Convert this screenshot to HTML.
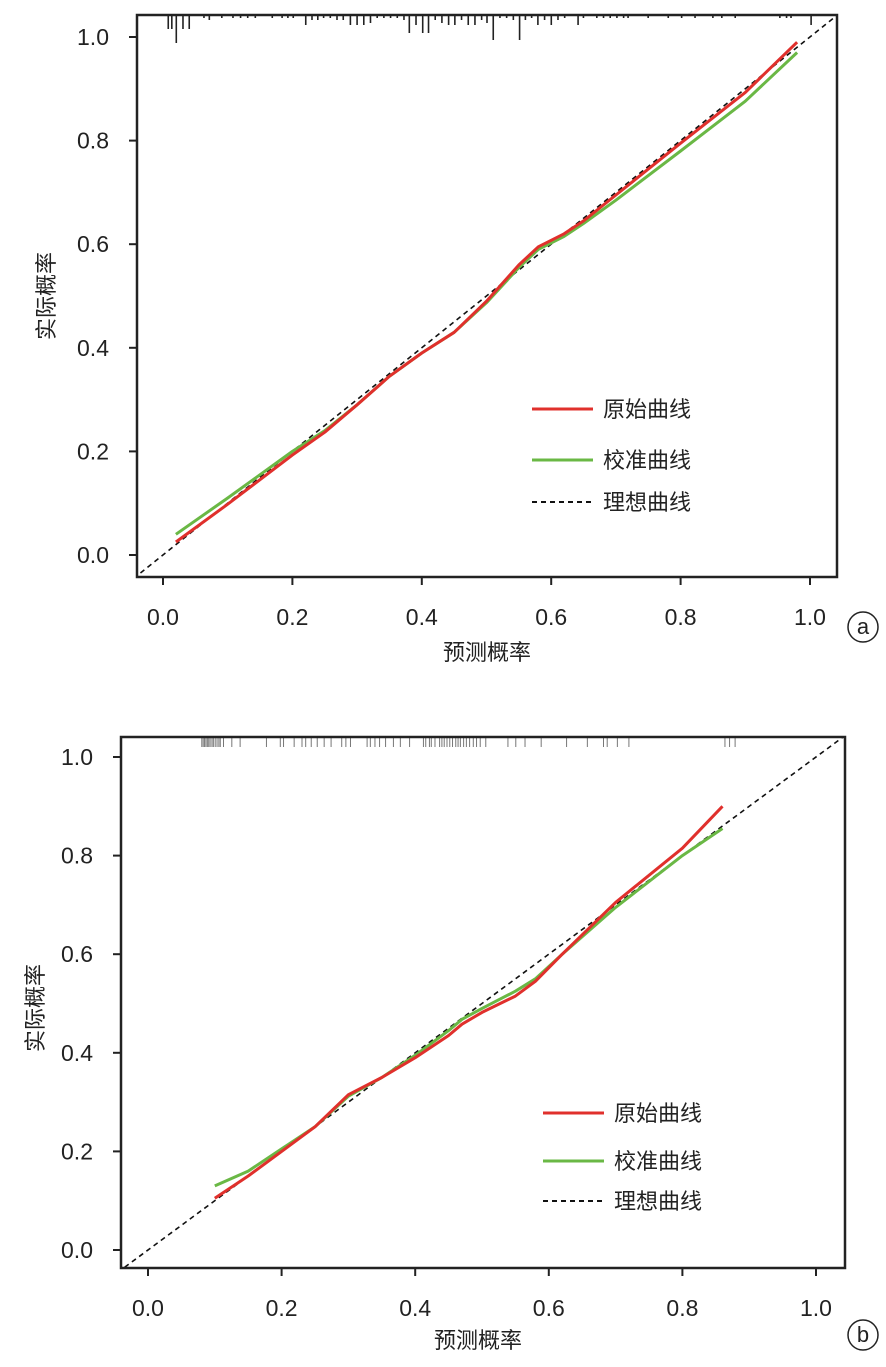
<!DOCTYPE html>
<html><head><meta charset="utf-8"><style>
body{margin:0;background:#fff;}
svg text{font-family:"Liberation Sans","Noto Sans CJK SC",sans-serif;fill:#222;}
</style></head><body>
<svg id="s" width="886" height="1362" xmlns="http://www.w3.org/2000/svg"></svg>
<script>
const s=document.getElementById('s');let h='';
function plot(P){
 const X=v=>P.x0+v*P.xs, Y=v=>P.y0-v*P.ys;
 h+=`<defs><clipPath id="c${P.id}"><rect x="${P.L}" y="${P.T}" width="${P.R-P.L}" height="${P.B-P.T}"/></clipPath></defs>`;
 P.rug.forEach(r=>{h+=`<line x1="${r[0]}" x2="${r[0]}" y1="${P.T}" y2="${P.T+r[1]}" stroke="${P.rc}" stroke-width="${P.rw}"/>`;});
 h+=`<line clip-path="url(#c${P.id})" x1="${X(-0.1)}" y1="${Y(-0.1)}" x2="${X(1.1)}" y2="${Y(1.1)}" stroke="#111" stroke-width="1.6" stroke-dasharray="5,4"/>`;
 const path=(pts,c)=>{h+=`<polyline fill="none" stroke="${c}" stroke-width="3" stroke-linejoin="round" points="${pts.map(p=>X(p[0]).toFixed(1)+','+Y(p[1]).toFixed(1)).join(' ')}"/>`;};
 path(P.g,'#6ab845');path(P.r,'#e0302c');
 h+=`<rect x="${P.L}" y="${P.T}" width="${P.R-P.L}" height="${P.B-P.T}" fill="none" stroke="#222" stroke-width="2.5"/>`;
 for(let i=0;i<=5;i++){const v=i/5;
  h+=`<line x1="${X(v)}" x2="${X(v)}" y1="${P.B}" y2="${P.B+8}" stroke="#222" stroke-width="2"/>`;
  h+=`<text x="${X(v)}" y="${P.B+48}" font-size="23" text-anchor="middle">${v.toFixed(1)}</text>`;
  h+=`<line x1="${P.L-8}" x2="${P.L}" y1="${Y(v)}" y2="${Y(v)}" stroke="#222" stroke-width="2"/>`;
  h+=`<text x="${P.L-28}" y="${Y(v)+8}" font-size="23" text-anchor="end">${v.toFixed(1)}</text>`;}
 h+=`<text x="${P.xt[0]}" y="${P.xt[1]}" font-size="22" text-anchor="middle">预测概率</text>`;
 h+=`<text transform="translate(${P.yt[0]},${P.yt[1]}) rotate(-90)" font-size="22" text-anchor="middle">实际概率</text>`;
 const lg=P.lg;[['#e0302c','原始曲线',0],['#6ab845','校准曲线',0],['#111','理想曲线',1]].forEach((e,i)=>{
  const y=lg.ys[i];h+=`<line x1="${lg.x}" x2="${lg.x+61}" y1="${y}" y2="${y}" stroke="${e[0]}" stroke-width="${e[2]?2:3}" ${e[2]?'stroke-dasharray="5,4"':''}/>`;
  h+=`<text x="${lg.x+71}" y="${y+8}" font-size="22">${e[1]}</text>`;});
 h+=`<circle cx="${P.lab[0]}" cy="${P.lab[1]}" r="15" fill="none" stroke="#222" stroke-width="1.5"/><text x="${P.lab[0]}" y="${P.lab[1]+7}" font-size="22" text-anchor="middle">${P.id}</text>`;
}
const fa=700/1568, fb=724/1568;
const za=[[70,14],[78,14],[88,28],[103,14],[117,14],[150,3],[162,5],[190,3],[215,3],[232,3],[248,3],[265,3],[303,3],[325,3],[338,3],[350,3],[378,10],[392,5],[405,5],[418,3],[433,3],[448,5],[462,5],[478,10],[493,10],[508,10],[523,8],[538,3],[553,3],[568,3],[583,3],[598,5],[610,18],[625,10],[640,18],[653,18],[668,5],[683,8],[698,10],[712,10],[727,5],[742,10],[757,10],[772,5],[784,8],[798,25],[813,3],[828,3],[843,5],[857,25],[870,5],[884,3],[898,10],[913,5],[928,10],[943,5],[958,3],[988,10],[1000,3],[1030,3],[1045,3],[1060,3],[1075,3],[1090,3],[1100,3],[1145,3],[1190,3],[1220,3],[1250,3],[1290,3],[1310,3],[1340,3],[1440,3],[1455,3],[1465,3],[1510,10]].map(a=>[137+a[0]*fa,a[1]]);
const zb=[175,178,181,184,187,190,193,197,200,204,208,212,215,222,240,258,315,345,352,375,392,400,412,425,440,455,478,487,497,533,540,550,560,573,590,605,625,655,660,668,672,680,690,695,700,706,712,718,725,730,735,742,748,755,763,770,778,790,838,855,875,910,965,1010,1045,1053,1075,1100,1308,1318,1330].map(a=>[121+a*fb,10]);
plot({id:'a',L:137,R:837,T:15,B:577,x0:163,xs:647,y0:555,ys:518,rug:za,rc:'#222',rw:1.6,
 r:[[0.02,0.025],[0.1,0.098],[0.2,0.193],[0.25,0.237],[0.3,0.29],[0.35,0.345],[0.4,0.39],[0.45,0.43],[0.5,0.49],[0.55,0.56],[0.58,0.595],[0.62,0.62],[0.65,0.645],[0.7,0.695],[0.8,0.795],[0.9,0.893],[0.98,0.99]],
 g:[[0.02,0.04],[0.1,0.11],[0.2,0.2],[0.25,0.24],[0.3,0.29],[0.35,0.345],[0.4,0.39],[0.45,0.43],[0.5,0.487],[0.55,0.555],[0.58,0.59],[0.62,0.615],[0.65,0.64],[0.7,0.685],[0.8,0.78],[0.9,0.876],[0.98,0.97]],
 xt:[487,660],yt:[54,296],lg:{x:532,ys:[409,460,502]},lab:[863,627]});
plot({id:'b',L:121,R:845,T:737,B:1268,x0:148,xs:668,y0:1250,ys:493,rug:zb,rc:'#777',rw:1,
 r:[[0.1,0.105],[0.15,0.15],[0.2,0.2],[0.25,0.25],[0.3,0.315],[0.35,0.35],[0.4,0.39],[0.45,0.435],[0.47,0.458],[0.5,0.482],[0.55,0.515],[0.58,0.545],[0.62,0.6],[0.7,0.705],[0.8,0.815],[0.86,0.9]],
 g:[[0.1,0.13],[0.15,0.16],[0.2,0.205],[0.25,0.25],[0.3,0.312],[0.35,0.35],[0.4,0.395],[0.45,0.445],[0.47,0.468],[0.5,0.49],[0.55,0.525],[0.58,0.55],[0.62,0.6],[0.7,0.695],[0.8,0.8],[0.86,0.855]],
 xt:[478,1348],yt:[43,1008],lg:{x:543,ys:[1113,1161,1201]},lab:[863,1335]});
s.innerHTML=h;
</script>
</body></html>
